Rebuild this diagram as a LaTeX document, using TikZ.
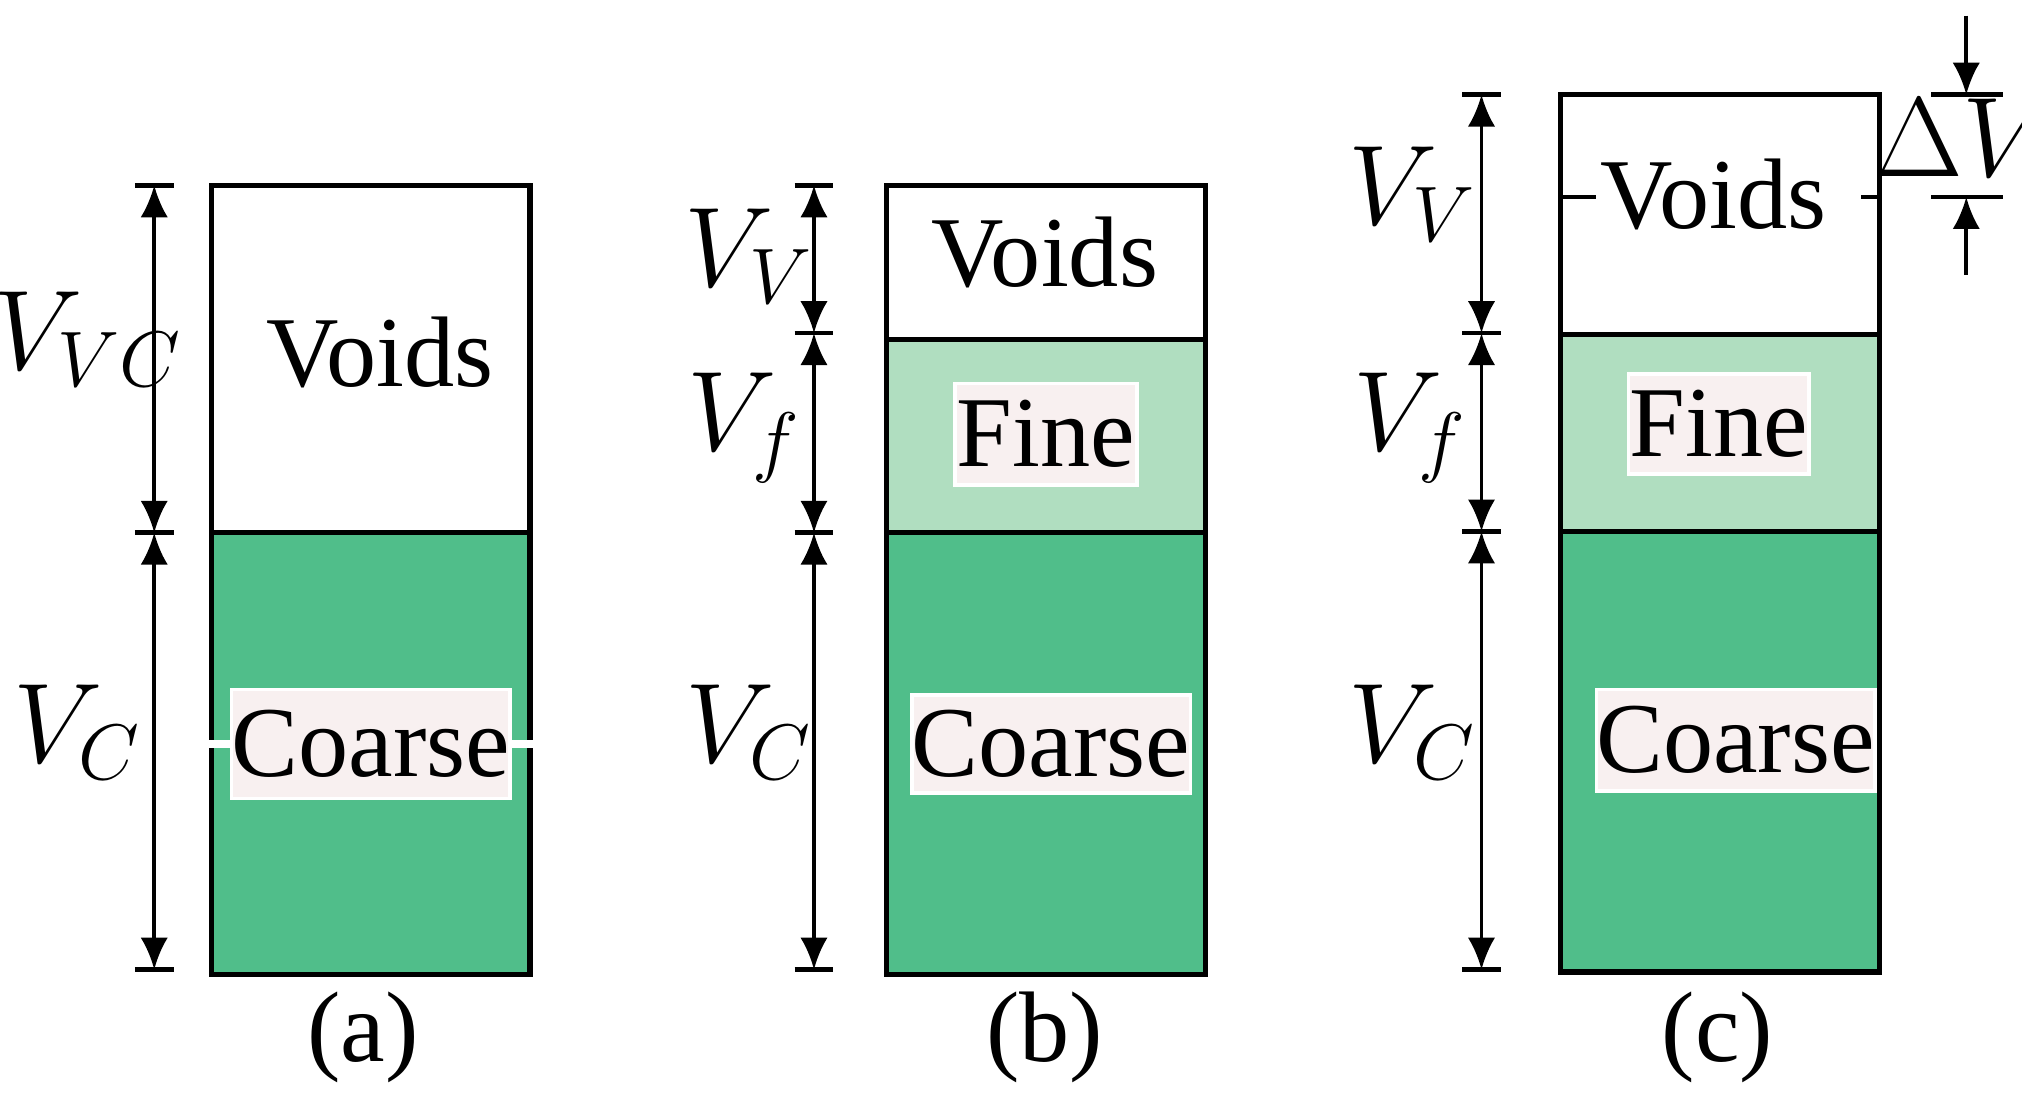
\documentclass[tikz,border=0pt]{standalone}
\usepackage{fontspec}
\setmainfont{Liberation Serif}
\usetikzlibrary{arrows.meta}
\definecolor{coarsegreen}{HTML}{50BE8A}
\definecolor{finegreen}{HTML}{B0DEC0}
\definecolor{labelbg}{HTML}{F8F0F0}
\tikzset{
  phase/.style={draw=black,line width=1.2pt},
  tag/.style={fill=labelbg,draw=white,line width=0.8pt,inner sep=0pt,font=\fontsize{22}{24}\selectfont},
  txt/.style={font=\fontsize{22}{24}\selectfont},
  sym/.style={font=\fontsize{24}{26}\selectfont},
  dim/.style={line width=0.8pt,{Latex[length=7pt,width=6pt]}-{Latex[length=7pt,width=6pt]}},
  tick/.style={line width=1pt}
}
\begin{document}
\begin{tikzpicture}[x=0.01cm,y=-0.01cm]
            \useasboundingbox (0,0) rectangle (1560,850);
            % (a)
            \fill[coarsegreen] (163,411) rectangle (409,752);
            \draw[phase] (163,143) rectangle (409,752);
            \draw[phase] (163,411) -- (409,411);
            \node[txt] (voidsA) at (293,272) {Voids};
            \node[tag,minimum width=172\pgflinewidth,text width=]
              (coarseA) at (286,574) {\rule{0pt}{0pt}};
            \node[tag,minimum width=1.72cm,minimum height=0.84cm] (coarseA) at (286,574) {Coarse};
            \coordinate (a1) at (119,143);
            \coordinate (a2) at (119,411);
            \coordinate (a3) at (119,748);
            \draw[dim] (a1) -- (a2);
            \draw[dim] (a2) -- (a3);
            \foreach \y in {143,411,748}
              \draw[tick] (104,\y) -- (134,\y);
            \node[sym] (vvcA) at (68,262) {$V_{VC}$};
            \node[sym] (vcA) at (60,565) {$V_C$};
            \node[txt] (capA) at (280,800) {(a)};

            % (b)
            \fill[finegreen] (684,262) rectangle (930,411);
            \fill[coarsegreen] (684,411) rectangle (930,752);
            \draw[phase] (684,143) rectangle (930,752);
            \draw[phase] (684,262) -- (930,262);
            \draw[phase] (684,411) -- (930,411);
            \node[txt] (voidsB) at (806,195) {Voids};
            \node[tag,minimum width=1.4cm,minimum height=0.78cm] (fineB) at (807,335) {Fine};
            \node[tag,minimum width=1.64cm,minimum height=0.76cm] (coarseB) at (811,574) {Coarse};
            \coordinate (b1) at (628,143);
            \coordinate (b2) at (628,257);
            \coordinate (b3) at (628,411);
            \coordinate (b4) at (628,748);
            \draw[dim] (b1) -- (b2);
            \draw[dim] (b2) -- (b3);
            \draw[dim] (b3) -- (b4);
            \foreach \y in {143,257,411,748}
              \draw[tick] (613,\y) -- (643,\y);
            \node[sym] (vvB) at (578,198) {$V_V$};
            \node[sym] (vfB) at (574,330) {$V_f$};
            \node[sym] (vcB) at (578,565) {$V_C$};
            \node[txt] (capB) at (806,800) {(b)};

            % (c)
            \fill[finegreen] (1204,258) rectangle (1450,410);
            \fill[coarsegreen] (1204,410) rectangle (1450,750);
            \draw[phase] (1204,73) rectangle (1450,750);
            \draw[phase] (1204,258) -- (1450,258);
            \draw[phase] (1204,410) -- (1450,410);
            \draw[line width=1pt,dash pattern=on 14pt off 8pt] (1204,152) -- (1450,152);
            \node[txt,fill=white,inner sep=1pt] (voidsC) at (1322,150) {Voids};
            \node[tag,minimum width=1.39cm,minimum height=0.77cm] (fineC) at (1326,327) {Fine};
            \node[tag,minimum width=1.63cm,minimum height=0.78cm] (coarseC) at (1339,571) {Coarse};
            \coordinate (c1) at (1143,73);
            \coordinate (c2) at (1143,257);
            \coordinate (c3) at (1143,410);
            \coordinate (c4) at (1143,748);
            \draw[dim] (c1) -- (c2);
            \draw[dim] (c2) -- (c3);
            \draw[dim] (c3) -- (c4);
            \foreach \y in {73,257,410,748}
              \draw[tick] (1128,\y) -- (1158,\y);
            \node[sym] (vvC) at (1090,150) {$V_V$};
            \node[sym] (vfC) at (1088,330) {$V_f$};
            \node[sym] (vcC) at (1090,565) {$V_C$};
            \node[txt] (capC) at (1325,800) {(c)};
            % settlement
            \coordinate (d0) at (1517,12);
            \coordinate (d1) at (1517,73);
            \coordinate (d2) at (1517,152);
            \coordinate (d3) at (1517,212);
            \draw[line width=0.8pt,-{Latex[length=7pt,width=6pt]}] (d0) -- (d1);
            \draw[line width=0.8pt,-{Latex[length=7pt,width=6pt]}] (d3) -- (d2);
            \draw[tick] (1490,73) -- (1545,73);
            \draw[tick] (1490,152) -- (1545,152);
            \node[sym] (dV) at (1515,106) {$\Delta V$};
        \end{tikzpicture}
\end{document}
